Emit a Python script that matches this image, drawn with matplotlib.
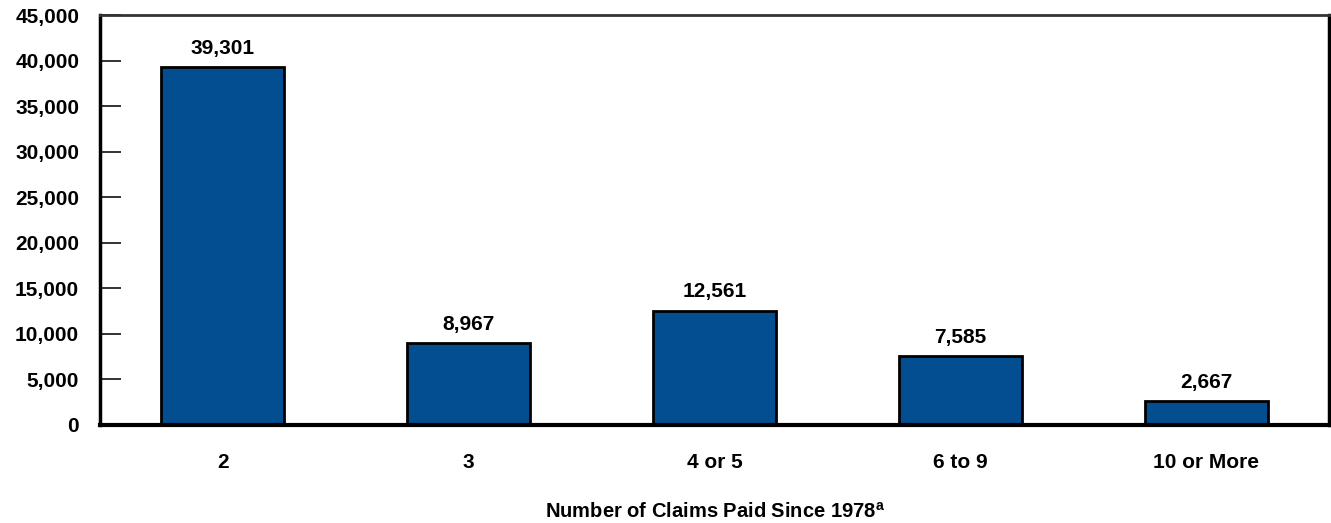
import matplotlib
matplotlib.use("Agg")
import matplotlib.pyplot as plt

categories = ["2", "3", "4 or 5", "6 to 9", "10 or More"]
values = [39301, 8967, 12561, 7585, 2667]
yticks = [0, 5000, 10000, 15000, 20000, 25000, 30000, 35000, 40000, 45000]

plt.rcParams['font.family'] = ["Liberation Sans", "DejaVu Sans"]
plt.rcParams['font.weight'] = 'bold'

fig = plt.figure(figsize=(13.31, 5.23), dpi=100)
ax = fig.add_axes([100/1331, 1-425/523, 1229/1331, 410/523])

x = range(len(categories))
ax.bar(x, values, width=0.5, color="#024e90", edgecolor="black", linewidth=2, zorder=3)
for xi, v in zip(x, values):
    ax.text(xi, v + 1000, f"{v:,}", ha="center", va="bottom", fontsize=15, fontweight="bold")

ax.set_xlim(-0.5, 4.5)
ax.set_ylim(0, 45000)
ax.set_yticks(yticks)
ax.set_yticklabels([f"{t:,}" for t in yticks], fontsize=15, fontweight="bold")
ax.set_xticks(list(x))
ax.set_xticklabels(categories, fontsize=15, fontweight="bold")
ax.tick_params(axis="y", direction="in", length=15, width=1.3, pad=15, color="#222222")
ax.tick_params(axis="x", length=0, pad=20)
for s in ["left", "right"]:
    ax.spines[s].set_linewidth(2.5)
ax.spines["top"].set_linewidth(2)
ax.spines["top"].set_color("#333333")
ax.spines["bottom"].set_linewidth(3)
ax.spines["bottom"].set_zorder(4)

fig.text(715/1331, 1-512/523, r"Number of Claims Paid Since 1978$^{\mathregular{a}}$",
         ha="center", va="center", fontsize=14.5, fontweight="bold")

fig.savefig("out.png", dpi=100)
